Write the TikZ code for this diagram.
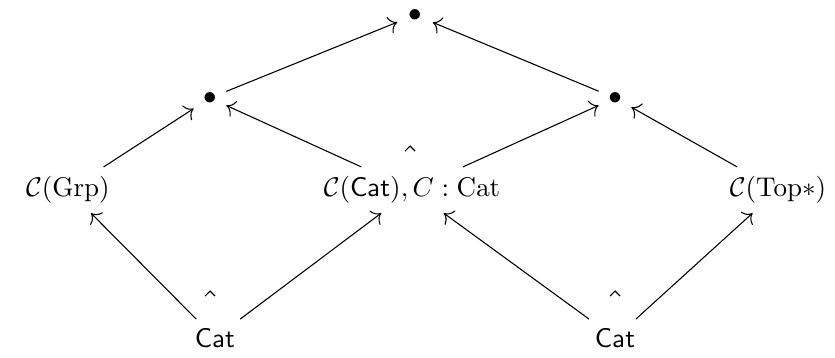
\documentclass[tikz,border=0pt]{standalone}
\usepackage{amsmath}
\usetikzlibrary{positioning, arrows.meta}
\tikzset{every picture/.style={line width=0.4pt}}

\begin{document}
\begin{tikzpicture}[>={To[scale=1.25]}, x=0.013cm, y=-0.013cm, every node/.style={font=\normalsize}]
        \useasboundingbox (0, 0) rectangle (835, 357);
        \node[inner sep=2pt] (top)    at (415, 15)  {$\bullet$};
        \node (lbul)   at (210, 98)  {$\bullet$};
        \node (rbul)   at (615, 98)  {$\bullet$};
        \node (grp)    at (68, 190)  {$\mathcal{C}(\mathrm{Grp})$};
        \node (ccat)   at (412, 190) {$\mathcal{C}(\mathsf{Cat}), C : \mathrm{Cat}$};
        \node (top*)   at (778, 190) {$\mathcal{C}(\mathrm{Top}{*})$};
        \node (lcat)   at (215, 338) {$\mathsf{Cat}$};
        \node (rcat)   at (615, 338) {$\mathsf{Cat}$};
        \draw[->, shorten >=2pt] (lbul) -- (top); \draw[->, shorten >=2pt] (rbul) -- (top);
        \draw[->] (grp) -- (lbul); \draw[->] (ccat) -- (lbul);
        \draw[->] (ccat) -- (rbul); \draw[->] (top*) -- (rbul);
        \draw[->] (lcat) -- (grp); \draw[->] (lcat) -- (ccat);
        \draw[->] (rcat) -- (ccat); \draw[->] (rcat) -- (top*);
        % pullback corners
        \coordinate (pbm) at (410, 146); \coordinate (pbl) at (210, 291); \coordinate (pbr) at (615, 291);
        \foreach \c in {pbm, pbl, pbr}
            \draw (\c) ++(-5, 5) -- ++(5, -5) -- ++(5, 5);
    \end{tikzpicture}
\end{document}
